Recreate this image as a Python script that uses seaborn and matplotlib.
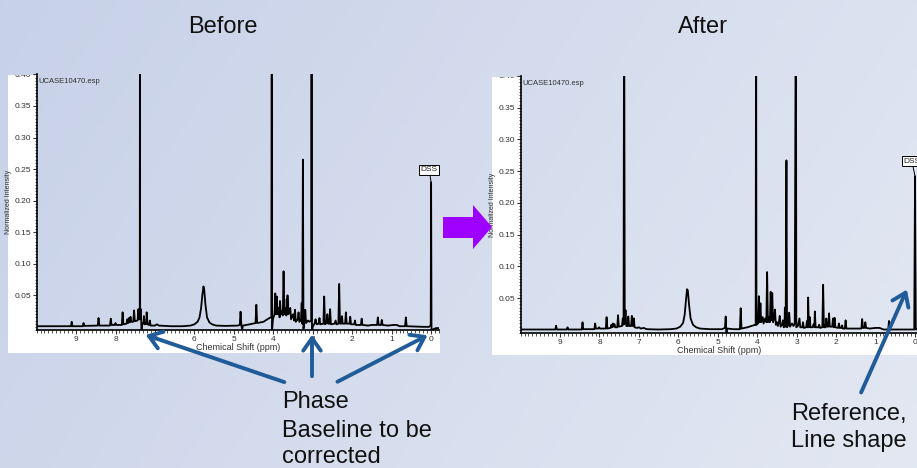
import matplotlib
matplotlib.use("Agg")
import matplotlib.pyplot as plt
import numpy as np
import seaborn as sns
from matplotlib.patches import Rectangle, Polygon, FancyArrowPatch
from matplotlib.ticker import MultipleLocator
from matplotlib.transforms import Bbox

# spectrum traces (ppm, normalized intensity)
before_ppm = [10.0, 9.13, 9.11, 9.09, 8.83, 8.81, 8.79, 8.45, 8.43, 8.41, 8.14, 8.12, 8.10,
              8.02, 8.00, 7.98, 7.84, 7.82, 7.80, 7.72, 7.70, 7.68, 7.66, 7.64, 7.62, 7.60,
              7.55, 7.53, 7.51, 7.44, 7.42, 7.40, 7.385, 7.38, 7.375, 7.36, 7.34, 7.32,
              7.29, 7.28, 7.26, 7.22, 7.21, 7.19, 7.15, 7.13, 7.11, 7.0, 6.95, 6.9, 6.6, 6.3,
              6.1, 6.0, 5.92, 5.87, 5.83, 5.80, 5.77, 5.75, 5.72, 5.68, 5.62, 5.55, 5.45,
              5.2, 4.9, 4.85, 4.83, 4.81, 4.79, 4.77, 4.6, 4.45, 4.43, 4.41, 4.25, 4.1,
              4.05, 4.04, 4.03, 4.01, 3.97, 3.95, 3.93, 3.91, 3.89, 3.86, 3.84, 3.83, 3.81,
              3.78, 3.76, 3.74, 3.72, 3.69, 3.67, 3.66, 3.65, 3.64, 3.62, 3.59, 3.57, 3.55,
              3.5, 3.47, 3.45, 3.43, 3.38, 3.36, 3.34, 3.30, 3.28, 3.265, 3.25, 3.235, 3.21,
              3.19, 3.17, 3.12, 3.08, 3.04, 3.03, 3.02, 3.0, 2.95, 2.93, 2.9, 2.85, 2.83, 2.81,
              2.73, 2.71, 2.69, 2.65, 2.63, 2.61, 2.58, 2.56, 2.54, 2.45, 2.42, 2.40,
              2.35, 2.33, 2.31, 2.28, 2.26, 2.24, 2.18, 2.16, 2.14, 2.07, 2.05, 2.03,
              1.95, 1.93, 1.91, 1.78, 1.76, 1.74, 1.6, 1.5, 1.37, 1.35, 1.33, 1.27, 1.25, 1.23,
              1.1, 0.95, 0.87, 0.8, 0.66, 0.64, 0.62, 0.4, 0.2, 0.05, 0.01, 0.0, -0.01,
              -0.05, -0.12, -0.2]
before_int = [0.001, 0.001, 0.008, 0.001, 0.001, 0.006, 0.0015, 0.002, 0.014, 0.002, 0.002, 0.013, 0.003,
              0.003, 0.006, 0.003, 0.003, 0.023, 0.004, 0.005, 0.012, 0.006, 0.014, 0.007, 0.016, 0.008,
              0.008, 0.026, 0.009, 0.01, 0.028, 0.012, 0.012, 0.6, 0.012, 0.028, -0.005, 0.006,
              0.005, 0.017, 0.004, 0.005, 0.023, 0.004, 0.003, 0.01, 0.002, 0.002, 0.004, 0.002, 0.001, 0.001,
              0.002, 0.004, 0.008, 0.015, 0.03, 0.05, 0.064, 0.058, 0.035, 0.015, 0.007, 0.004, 0.002,
              0.0015, 0.002, 0.003, 0.024, 0.003, -0.005, 0.002, 0.004, 0.006, 0.035, 0.006, 0.008, 0.014,
              0.015, 0.6, -0.005, 0.012, 0.02, 0.053, 0.02, 0.048, 0.02, 0.03, 0.015, 0.041, 0.02,
              0.025, 0.018, 0.088, 0.02, 0.03, 0.018, 0.044, 0.02, 0.05, 0.02, 0.025, 0.03, 0.012,
              0.02, 0.01, 0.027, 0.008, 0.012, 0.023, 0.008, 0.01, 0.038, 0.005, 0.265, -0.003, 0.008,
              0.027, 0.006, 0.01, 0.008, 0.01, 0.6, -0.009, 0.0, 0.006, 0.012, 0.004, 0.005, 0.014, 0.004,
              0.005, 0.048, 0.004, 0.006, 0.02, 0.005, 0.005, 0.028, 0.004, 0.005, 0.01, 0.004,
              0.005, 0.068, 0.005, 0.005, 0.017, 0.005, 0.005, 0.023, 0.005, 0.005, 0.016, 0.004,
              0.004, 0.01, 0.003, 0.003, 0.013, 0.003, 0.002, 0.003, 0.003, 0.015, 0.003, 0.003, 0.011, 0.003,
              0.002, 0.003, 0.003, 0.001, 0.001, 0.015, 0.001, 0.0005, 0.0, 0.0, 0.003, 0.229, -0.006,
              -0.004, -0.002, -0.002]

after_ppm = [10.0, 9.12, 9.10, 9.08, 8.83, 8.81, 8.79, 8.45, 8.43, 8.41, 8.13, 8.11, 8.09, 8.03, 8.01, 7.99,
             7.84, 7.82, 7.80, 7.72, 7.70, 7.68, 7.66, 7.64, 7.62, 7.60, 7.55, 7.53, 7.51,
             7.43, 7.41, 7.39, 7.375, 7.36, 7.34, 7.32, 7.29, 7.27, 7.25, 7.20, 7.18, 7.16, 7.14, 7.13, 7.11,
             7.05, 7.0, 6.95, 6.88, 6.8, 6.5, 6.2,
             6.05, 5.95, 5.88, 5.84, 5.81, 5.78, 5.76, 5.73, 5.69, 5.63, 5.55, 5.45,
             5.2, 4.9, 4.82, 4.80, 4.79, 4.78, 4.77, 4.6, 4.44, 4.42, 4.40, 4.25, 4.1, 4.04, 4.03, 4.02,
             3.98, 3.96, 3.94, 3.92, 3.90, 3.86, 3.84, 3.80, 3.77, 3.75, 3.73, 3.70, 3.68, 3.66, 3.64,
             3.62, 3.60, 3.57, 3.55, 3.53, 3.50, 3.48, 3.45, 3.43, 3.41, 3.37, 3.35, 3.33, 3.31, 3.30,
             3.28, 3.26, 3.245, 3.21, 3.19, 3.17, 3.12, 3.08, 3.05, 3.02, 3.01, 2.97, 2.93, 2.91,
             2.86, 2.84, 2.82, 2.76, 2.74, 2.72, 2.71, 2.69, 2.67, 2.65, 2.60, 2.57, 2.55, 2.54, 2.52,
             2.45, 2.43, 2.41, 2.35, 2.33, 2.31, 2.27, 2.25, 2.23, 2.20, 2.18, 2.16, 2.10, 2.08, 2.06,
             2.04, 2.02, 1.95, 1.93, 1.91, 1.87, 1.85, 1.83, 1.78, 1.76, 1.74, 1.6, 1.5, 1.36, 1.34, 1.32,
             1.28, 1.26, 1.24, 1.15, 1.0, 0.9, 0.8, 0.68, 0.66, 0.64, 0.4, 0.2, 0.02, 0.0, -0.02, -0.05]
after_int = [0.0005, 0.0005, 0.0065, 0.0005, 0.0005, 0.004, 0.0005, 0.0005, 0.012, 0.001, 0.001, 0.01, 0.002, 0.002, 0.004, 0.002,
             0.002, 0.02, 0.002, 0.003, 0.008, 0.004, 0.01, 0.005, 0.009, 0.004, 0.004, 0.023, 0.005,
             0.006, 0.018, 0.008, 0.6, 0.01, 0.031, 0.006, 0.006, 0.021, 0.006, 0.006, 0.022, 0.006, 0.007, 0.018, 0.004,
             0.003, 0.004, 0.002, 0.003, 0.001, 0.0005, 0.001,
             0.002, 0.005, 0.011, 0.024, 0.045, 0.064, 0.062, 0.04, 0.018, 0.008, 0.004, 0.002,
             0.001, 0.001, 0.003, 0.021, 0.003, -0.01, 0.002, 0.001, 0.001, 0.034, 0.002, 0.004, 0.007, 0.008, 0.6, 0.008,
             0.01, 0.053, 0.012, 0.042, 0.012, 0.02, 0.01, 0.018, 0.012, 0.091, 0.012, 0.02, 0.012, 0.06, 0.015,
             0.058, 0.012, 0.02, 0.032, 0.008, 0.012, 0.006, 0.012, 0.022, 0.005, 0.008, 0.015, 0.004, 0.005, 0.035,
             0.005, 0.267, 0.004, 0.008, 0.027, 0.005, 0.01, 0.006, 0.01, 0.6, 0.004, 0.006, 0.018, 0.004,
             0.004, 0.012, 0.003, 0.004, 0.014, 0.004, 0.051, 0.004, 0.02, 0.004, 0.004, 0.009, 0.004, 0.029, 0.004,
             0.004, 0.008, 0.003, 0.004, 0.071, 0.004, 0.004, 0.018, 0.005, 0.005, 0.026, 0.005, 0.005, 0.018, 0.004,
             0.019, 0.004, 0.003, 0.01, 0.003, 0.003, 0.007, 0.002, 0.002, 0.015, 0.002, 0.002, 0.002, 0.002, 0.017, 0.003,
             0.003, 0.012, 0.003, 0.002, 0.003, 0.003, 0.0005, 0.0005, 0.014, 0.0005, 0.0005, 0.0005, 0.0005, 0.242, 0.0005, 0.0005]

x_ticks = [0, 1, 2, 3, 4, 5, 6, 7, 8, 9]
y_ticks = [0.05, 0.10, 0.15, 0.20, 0.25, 0.30, 0.35, 0.40]
dss_before = (0.0, 0.229)
dss_after = (0.0, 0.242)

W, H = 917, 468
sns.set_theme(style="white")
plt.rcParams['font.family'] = ['Liberation Sans', 'DejaVu Sans']

fig = plt.figure(figsize=(W / 100, H / 100), dpi=100)


def fx(x):
    return x / W


def fy(y):
    return 1 - y / H


# slide background gradient
bg = fig.add_axes([0, 0, 1, 1], zorder=-5)
gx = np.linspace(0, 1, 200)
gy = np.linspace(0, 1, 100)
GX, GY = np.meshgrid(gx, gy)
t = np.clip(0.75 * GX + 0.25 * GY, 0, 1)[..., None]
c0 = np.array([0.78, 0.82, 0.91])
c1 = np.array([0.89, 0.91, 0.95])
bg.imshow(c0 + (c1 - c0) * t, aspect='auto', extent=[0, 1, 0, 1], origin='upper')
bg.axis('off')

# white margins of the pasted spectra
for (x0, y0, x1, y1) in [(8, 75, 37, 353), (8, 330, 440, 353), (492, 77, 521, 355), (492, 333, 917, 355)]:
    fig.add_artist(Rectangle((fx(x0), fy(y1)), fx(x1 - x0), (y1 - y0) / H,
                             transform=fig.transFigure, facecolor='white', edgecolor='none', zorder=-1))


def spectrum(rect, ppm, inten, xmax_right, dss, dss_text_pos, top_px):
    ax = fig.add_axes(rect)
    ax.set_facecolor('none')
    sns.lineplot(x=ppm, y=inten, sort=False, estimator=None, color='black', lw=1.3, ax=ax)
    ax.set_xlim(10.0, xmax_right)
    ax.set_ylim(-0.005, 0.40)
    ax.set_xticks(x_ticks)
    ax.set_yticks(y_ticks)
    ax.set_yticklabels([f"{v:.2f}" for v in y_ticks])
    ax.xaxis.set_minor_locator(MultipleLocator(0.1))
    ax.yaxis.set_minor_locator(MultipleLocator(0.005))
    ax.tick_params(axis='both', which='major', direction='out', length=3, width=0.8,
                   labelsize=6, pad=1, colors='#333333', left=True, bottom=True)
    ax.tick_params(axis='both', which='minor', direction='out', length=1.8, width=0.6,
                   left=True, bottom=True, color='#333333')
    for s in ['top', 'right']:
        ax.spines[s].set_visible(False)
    for s in ['left', 'bottom']:
        ax.spines[s].set_linewidth(1.2)
        ax.spines[s].set_color('black')
    ax.set_xlabel("Chemical Shift (ppm)", fontsize=6.5, labelpad=0, color='#333333')
    ax.set_ylabel("Normalized Intensity", fontsize=5, labelpad=2, color='#333333')
    ax.text(0.005, 0.985, "UCASE10470.esp", transform=ax.transAxes, fontsize=5.5,
            va='top', ha='left', color='#333333')
    ax.annotate("DSS", xy=dss, xytext=dss_text_pos, fontsize=6, ha='center', va='center',
                bbox=dict(boxstyle='square,pad=0.2', fc='white', ec='black', lw=0.7),
                arrowprops=dict(arrowstyle='-', lw=0.7, color='black', shrinkA=0, shrinkB=0),
                annotation_clip=False)
    # top tick label is cut by the pasted image edge
    clip = Bbox([[0, 0], [W, H - top_px]])
    for lbl in ax.get_yticklabels():
        lbl.set_clip_on(True)
        lbl.set_clip_box(clip)
    return ax


spectrum([fx(36.6), fy(330), fx(439 - 36.6), (330 - 74.4) / H], before_ppm, before_int, -0.2,
         dss_before, (0.05, 0.249), 75)
spectrum([fx(520.6), fy(333), fx(917 - 520.6), (333 - 76) / H], after_ppm, after_int, -0.05,
         dss_after, (0.08, 0.266), 77)

# purple arrow between panels
arrow_pts = [(443, 217), (473, 217), (473, 205), (492, 227), (473, 249), (473, 238), (443, 238)]
fig.add_artist(Polygon([(fx(x), fy(y)) for x, y in arrow_pts], closed=True, transform=fig.transFigure,
                       facecolor='#9d00ff', edgecolor='none', zorder=5))

# blue callout arrows
blue = '#1f5c99'
for (x0, y0, x1, y1) in [(287, 383, 143, 334), (312, 379, 312, 332), (335, 383, 430, 334), (860, 395, 908, 287)]:
    fig.add_artist(FancyArrowPatch((fx(x0), fy(y0)), (fx(x1), fy(y1)), transform=fig.transFigure,
                                   arrowstyle='->,head_length=0.5,head_width=0.35', mutation_scale=18,
                                   lw=2.8, color=blue, zorder=6))

# slide texts
fig.text(fx(223), fy(33), "Before", fontsize=17, ha='center', va='baseline', color='#111111')
fig.text(fx(703), fy(33), "After", fontsize=17, ha='center', va='baseline', color='#111111')
for txt, yb in [("Phase", 408), ("Baseline to be", 437), ("corrected", 463)]:
    fig.text(fx(282), fy(yb), txt, fontsize=17, ha='left', va='baseline', color='#111111')
for txt, yb in [("Reference,", 420), ("Line shape", 447)]:
    fig.text(fx(791), fy(yb), txt, fontsize=17, ha='left', va='baseline', color='#111111')

fig.savefig("out.png", dpi=100)
